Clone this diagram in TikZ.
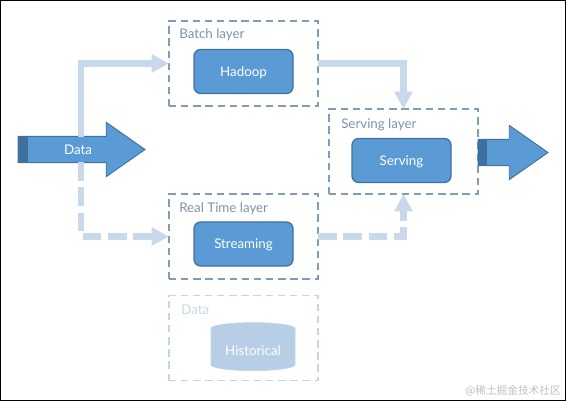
\documentclass[tikz,border=0pt]{standalone}
\usepackage{fontspec}
\setmainfont{Lato}
\newfontfamily\cjkfont{Noto Sans CJK SC}
\usetikzlibrary{arrows.meta,shapes.arrows,shapes.geometric}
\definecolor{BoxBlue}{HTML}{5B9BD5}
\definecolor{EdgeBlue}{HTML}{41719C}
\definecolor{BandBlue}{HTML}{3F6F9F}
\definecolor{DashGray}{HTML}{7F9DB9}
\definecolor{PaleDash}{HTML}{C3D5E8}
\definecolor{FlowBlue}{HTML}{C8D9EC}
\definecolor{LabelGray}{HTML}{7F93AB}
\definecolor{PaleLabel}{HTML}{CAD7E6}
\definecolor{StoreBlue}{HTML}{B7CEE6}
\tikzset{
  layerbox/.style={draw=DashGray, line width=1.2pt, dash pattern=on 5.5pt off 3.6pt, minimum width=111.75pt, minimum height=63.75pt, outer sep=0pt},
  procbox/.style={rounded corners=5pt, draw=EdgeBlue, fill=BoxBlue, line width=1pt, text=white, minimum width=74.25pt, minimum height=33pt, font=\normalsize, text height=7.2pt, text depth=0pt},
  layerlabel/.style={text=LabelGray, font=\normalsize, anchor=west, inner sep=0pt},
  flowarrow/.style={draw=FlowBlue, line width=4.6pt, -{Triangle[length=13pt,width=13pt]}},
  bigarrow/.style={single arrow, single arrow tip angle=70, single arrow head extend=10.5pt, fill=BoxBlue, draw=EdgeBlue, line width=0.7pt, text=white, font=\normalsize, inner ysep=5.5pt, text height=7.4pt, text depth=0.6pt, minimum width=39.75pt, anchor=tail, outer sep=0pt}
}
\begin{document}
\begin{tikzpicture}[x=0.75pt, y=-0.75pt]
\useasboundingbox (0,0) rectangle (566,402);
\fill[white] (0,0) rectangle (566,402);
\draw[black, line width=1.2pt] (0.5,0.5) rectangle (565.5,400.5);
% layers
\node[layerbox] (batch) at (243.5,63.5) {};
\node[layerbox] (serving) at (403.5,151.5) {};
\node[layerbox] (realtime) at (243.5,236.5) {};
\node[layerbox, draw=PaleDash] (store) at (243.5,338) {};
\node[layerlabel] (batchlabel) at (179,34.5) {Batch layer};
\node[layerlabel] (servinglabel) at (341,125) {Serving layer};
\node[layerlabel] (realtimelabel) at (179,209) {Real Time layer};
\node[layerlabel, text=PaleLabel] (storelabel) at (181,310) {Data};
\node[procbox] (hadoop) at (243.5,71.5) {Hadoop};
\node[procbox] (servingbox) at (401.5,160.5) {Serving};
\node[procbox] (streaming) at (243.5,244) {Streaming};
\node[cylinder, shape border rotate=90, aspect=0.18, fill=StoreBlue, draw=PaleDash, line width=0.5pt, text=white, font=\normalsize, minimum width=63pt, minimum height=36pt, outer sep=0pt] (historical) at (253,351) {Historical};
% big arrows
\node[bigarrow, minimum height=95.25pt] (dataarrow) at (18,149.5) {\hspace{9pt}Data};
\node[bigarrow, minimum height=52.5pt] (outarrow) at (478,152.5) {};
\node[fill=BandBlue, inner sep=0pt, minimum width=7.5pt, minimum height=18.75pt] (databand) at (23,149.5) {};
\node[fill=BandBlue, inner sep=0pt, minimum width=6.5pt, minimum height=18.75pt] (outband) at (482.5,152.5) {};
% flows
\coordinate (datatop) at (81,137);
\coordinate (datafoot) at (81,162);
\draw[flowarrow] (datatop) |- (batch.west);
\draw[flowarrow, dash pattern=on 14pt off 5pt] (datafoot) |- (realtime.west);
\draw[flowarrow] (batch.east) -| (serving.north);
\draw[flowarrow, dash pattern=on 14pt off 5pt] (realtime.east) -| (serving.south);
\node[text=black!25, font=\cjkfont\footnotesize, anchor=east, inner sep=0pt] (mark) at (561,391) {@稀土掘金技术社区};
\end{tikzpicture}
\end{document}
